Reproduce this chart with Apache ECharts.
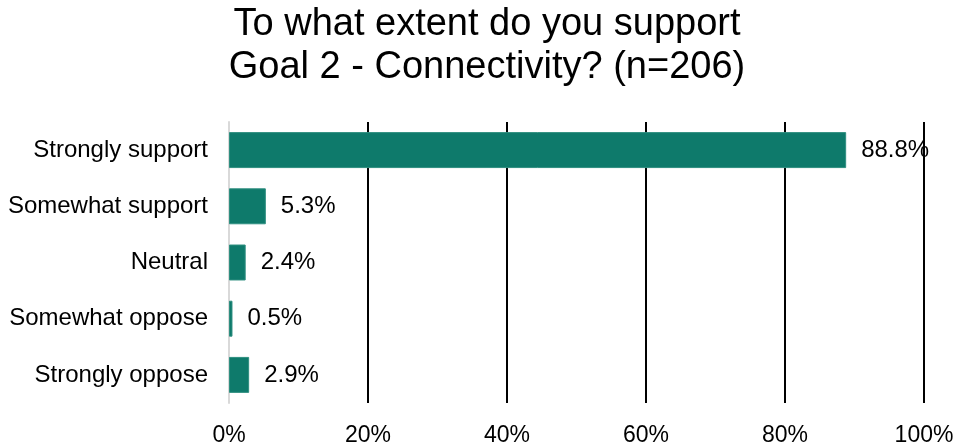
<!DOCTYPE html>
<html>
<head>
<meta charset="utf-8">
<script src="https://cdn.jsdelivr.net/npm/echarts@6/dist/echarts.min.js"></script>
<style>
  html, body { margin: 0; padding: 0; background: #fff; }
  #chart { width: 957px; height: 442px; }
</style>
</head>
<body>
<div id="chart"></div>
<script>
// Survey responses for Goal 2
const categories = ['Strongly support', 'Somewhat support', 'Neutral', 'Somewhat oppose', 'Strongly oppose'];
const shares = [88.8, 5.3, 2.4, 0.5, 2.9];
const titleLines = ['To what extent do you support', 'Goal 2 - Connectivity? (n=206)'];

const FONT = '"Liberation Sans", Arial, Helvetica, sans-serif';
const chart = echarts.init(document.getElementById('chart'), null, { renderer: 'canvas' });

chart.setOption({
  animation: false,
  backgroundColor: '#ffffff',
  graphic: [{
    type: 'text',
    x: 487,
    y: 3,
    style: {
      text: titleLines.join('\n'),
      textAlign: 'center',
      textVerticalAlign: 'top',
      fontFamily: FONT,
      fontSize: 38,
      lineHeight: 43,
      fill: '#000000'
    }
  }],
  grid: {
    left: 229, right: 33, top: 122, bottom: 39,
    containLabel: false,
    outerBoundsMode: 'none'
  },
  xAxis: {
    type: 'value',
    min: 0,
    max: 100,
    interval: 20,
    axisLine: { show: false },
    axisTick: { show: false },
    axisLabel: {
      formatter: '{value}%',
      fontFamily: FONT,
      fontSize: 23,
      color: '#000000',
      margin: 21
    },
    splitLine: {
      show: true,
      showMinLine: false,
      lineStyle: { color: '#000000', width: 2 }
    }
  },
  yAxis: {
    type: 'category',
    data: categories,
    inverse: true,
    axisLine: { show: true, lineStyle: { color: '#d9d9d9', width: 2 } },
    axisTick: { show: false },
    axisLabel: {
      fontFamily: FONT,
      fontSize: 24,
      color: '#000000',
      margin: 21
    }
  },
  series: [{
    type: 'bar',
    data: shares,
    barWidth: '64%',
    itemStyle: { color: '#0e7a6b', borderColor: '#2f8f80', borderWidth: 1 },
    label: {
      show: true,
      position: 'right',
      distance: 15,
      formatter: p => p.value.toFixed(1) + '%',
      fontFamily: FONT,
      fontSize: 24,
      color: '#000000'
    }
  }]
});
</script>
</body>
</html>
